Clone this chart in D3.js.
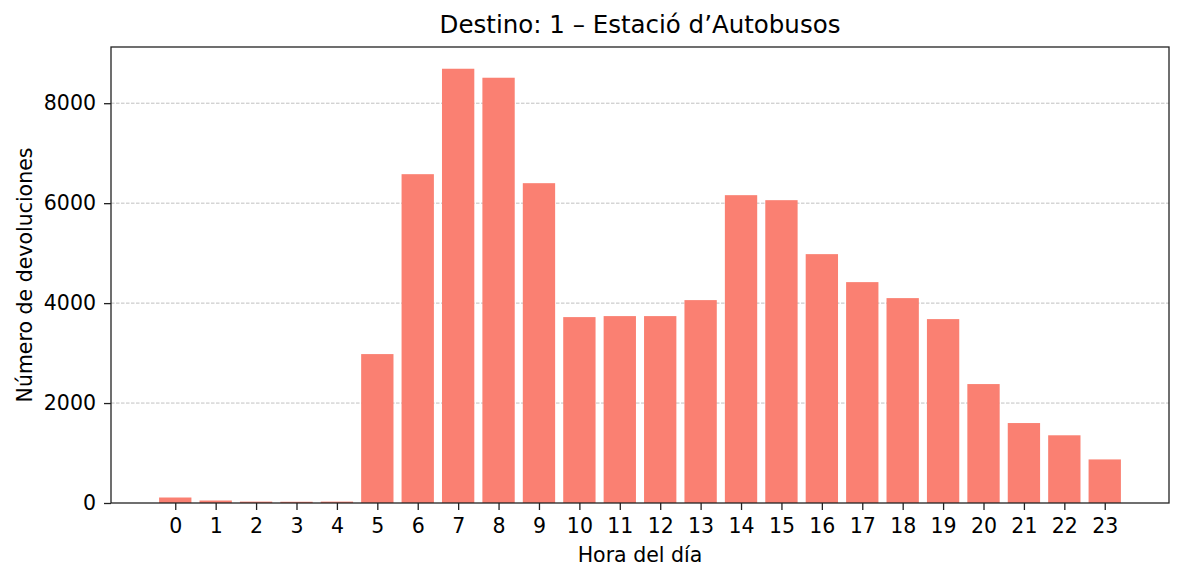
<!DOCTYPE html>
<html>
<head>
<meta charset="utf-8">
<script src="https://cdn.jsdelivr.net/npm/d3@7"></script>
<style>
  body { margin: 0; background: #fff; }
  svg { font-family: "DejaVu Sans", sans-serif; }
</style>
</head>
<body>
<div id="chart"></div>
<script>
var hours = d3.range(0, 24);
var returns = [110, 50, 28, 25, 28, 2980, 6580, 8690, 8510, 6400, 3720, 3740,
               3740, 4060, 6160, 6060, 4980, 4420, 4100, 3680, 2380, 1600, 1355, 872];
var yTicks = [0, 2000, 4000, 6000, 8000];

var W = 1184, H = 581;
var margin = {top: 47, right: 15, bottom: 78, left: 111},
    width = W - margin.left - margin.right,
    height = H - margin.top - margin.bottom;

var x = d3.scaleLinear().domain([-1.59, 24.59]).range([0, width]);
var y = d3.scaleLinear().domain([0, 9125]).range([height, 0]);
var barW = x(0.8) - x(0);

var svg = d3.select('#chart').append('svg')
    .attr('width', W).attr('height', H);
var g = svg.append('g')
    .attr('transform', 'translate(' + margin.left + ',' + margin.top + ')');

// grid
g.selectAll('.grid').data(yTicks.filter(d => d > 0)).enter().append('line')
    .attr('x1', 0).attr('x2', width)
    .attr('y1', d => y(d)).attr('y2', d => y(d))
    .style('stroke', '#b0b0b0').style('stroke-width', 0.8)
    .style('stroke-dasharray', '3.5,1.5');

// bars
g.selectAll('.bar').data(returns).enter().append('rect')
    .attr('x', (d, i) => x(hours[i]) - barW / 2)
    .attr('width', barW)
    .attr('y', d => y(d))
    .attr('height', d => height - y(d))
    .style('fill', '#fa8072');

// axes
var xAxis = d3.axisBottom(x).tickValues(hours).tickFormat(d3.format('d'))
    .tickSize(7).tickPadding(8);
var yAxis = d3.axisLeft(y).tickValues(yTicks).tickFormat(d3.format('d'))
    .tickSize(7).tickPadding(8);
g.append('g').attr('transform', 'translate(0,' + height + ')').call(xAxis)
    .call(s => s.select('.domain').remove());
g.append('g').call(yAxis).call(s => s.select('.domain').remove());
g.selectAll('.tick line').style('stroke', '#222').style('stroke-width', 1.3);
g.selectAll('.tick text').style('fill', '#000')
    .style('font-family', '"DejaVu Sans", sans-serif').style('font-size', '20.5px');

// frame
g.append('rect').attr('width', width).attr('height', height)
    .style('fill', 'none').style('stroke', '#222').style('stroke-width', 1.3);

// labels
svg.append('text')
    .attr('x', margin.left + width / 2).attr('y', 33)
    .attr('text-anchor', 'middle').style('font-size', '24.5px')
    .text('Destino: 1 \u2013 Estaci\u00f3 d\u2019Autobusos');
svg.append('text')
    .attr('x', margin.left + width / 2).attr('y', 562)
    .attr('text-anchor', 'middle').style('font-size', '20.5px')
    .text('Hora del d\u00eda');
svg.append('text')
    .attr('transform', 'translate(31.5,' + (margin.top + height / 2) + ') rotate(-90)')
    .attr('text-anchor', 'middle').style('font-size', '20.5px')
    .text('N\u00famero de devoluciones');
</script>
</body>
</html>
